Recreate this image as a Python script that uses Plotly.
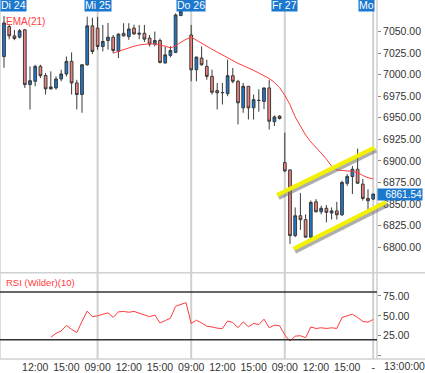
import plotly.graph_objects as go

# ---------------- data ----------------
candle_idx = list(range(72))
open_ = [7021, 7055.8, 7045, 7043.5, 7052, 6988.5, 6992.3, 7009.6, 6999, 6983.5,
         6984.6, 6995, 7000.8, 7015.4, 6990.4, 6977, 7011.5, 7056.6,
         7054, 7032.7, 7039.6, 7043.5, 7027, 7048, 7044.2, 7054, 7047, 7048,
         7042.4, 7035.5, 7039.6, 7013.5, 7022.3, 7025.8, 7068.5, 7074.5,
         7046, 7005.8, 7019.3, 7009.6, 6998, 6981.5, 6979, 6978, 6998.8, 6992.3,
         6961.5, 6986.5, 6961.5, 6970, 6969, 6984.6, 6945.4, 6952,
         6898, 6889.5, 6813.3, 6836.4, 6831.8, 6811.5, 6852.5, 6841, 6845, 6839.5,
         6842, 6837.4, 6874, 6881.9, 6890.3, 6873, 6856.5, 6855.7]
high = [7068, 7058, 7052, 7053, 7053, 7009.6, 7011.5, 7011.5, 7002, 7003.8,
        6998, 7005.8, 7021, 7025.8, 6994, 7012, 7067.3, 7066,
        7067, 7057.7, 7060, 7046, 7048, 7059.7, 7059.7, 7058, 7057.7, 7057.7,
        7046, 7050, 7042, 7032.7, 7033, 7071, 7074, 7084,
        7057.7, 7021, 7032.7, 7017.3, 7005.8, 6990.4, 6990.4, 7017.3, 7007.7, 6994,
        6990.4, 6986.5, 6977, 6983, 6985, 6994, 6952.7, 6953,
        6932.7, 6890, 6846, 6862.6, 6838, 6854, 6855.6, 6848, 6848.8, 6846,
        6852.5, 6877, 6884.6, 6894, 6914.2, 6879, 6867, 6861.6]
low = [7008, 7041, 7040, 7042, 6984.6, 6959.6, 6986.5, 6996, 6977, 6982.7,
       6982.7, 6992.3, 6998, 6977, 6959.6, 6955.8, 7010.4, 7024,
       7029, 7026.9, 7029, 7025, 7019.3, 7044, 7040.4, 7046, 7041, 7038,
       7032.7, 7032.7, 7013, 7013, 7020, 7025, 7068, 7074,
       6992.3, 6992.3, 7010.4, 6994.2, 6977, 6959.6, 6965.4, 6975, 6990, 6942.3,
       6955.8, 6948, 6948, 6957, 6960, 6936.5, 6940.4, 6948,
       6887, 6803.7, 6811.5, 6820, 6811, 6810, 6840, 6838, 6828.8, 6832,
       6832, 6836, 6871, 6861.5, 6874, 6854, 6843.3, 6854.5]
close = [7060, 7045, 7042, 7051, 6988.5, 6993, 7009.6, 6998.8, 6983.5, 6985.8,
         6995, 7000.8, 7015.4, 6990.4, 6977, 7011.5, 7056.6, 7026.9,
         7032.7, 7038.5, 7043.5, 7028, 7047, 7045, 7053, 7047.3, 7048, 7041.2,
         7035.5, 7039.6, 7014.2, 7023, 7028, 7069.3, 7073.5, 7080,
         7005.6, 7020.4, 7011.5, 6998, 6979.6, 6978.9, 6979.3, 6998.8, 6992.3, 6967.3,
         6986.5, 6961.5, 6971, 6970.2, 6984.6, 6946, 6951, 6949.2,
         6888.3, 6813.3, 6836.4, 6831.8, 6811.5, 6851.8, 6841, 6845, 6840.3, 6842,
         6837.4, 6875, 6882, 6890.3, 6874, 6856.5, 6853.7, 6861.54]

ema_idx = list(range(21, 72))
ema21 = [7025, 7027, 7029.5, 7031, 7033, 7034.5, 7035.5, 7035.8, 7035.6, 7034.5,
         7033, 7031, 7033.5, 7037.5, 7041, 7043.5, 7040, 7036.5, 7033, 7029,
         7026, 7023, 7019.5, 7016, 7013, 7010.5, 7008, 7005, 7002, 6998.5,
         6995.5, 6991, 6985, 6976, 6965, 6951, 6940, 6930, 6922, 6916,
         6909, 6902, 6894, 6889.5, 6888.5, 6888.3, 6888, 6886.5, 6883, 6880.5, 6879]

rsi_idx = list(range(9, 72))
rsi10 = [23, 28, 31, 38, 33, 29, 43, 56, 49, 50, 52, 53.7, 48, 55, 55.5, 54.5,
         55.5, 53, 51, 49, 51, 41, 44, 47, 62, 64, 66.6, 40.4, 44.5, 41, 37, 36,
         34.5, 34, 43.5, 41.6, 35, 42.5, 36.2, 40.4, 39, 45.8, 35, 38.3, 37.5,
         26, 18.3, 24.5, 25, 22.5, 36, 34.1, 35, 34.1, 35, 34.1, 47.9, 50, 52,
         48, 43, 42, 45.4]

day_labels = ["Di 24", "Mi 25", "Do 26", "Fr 27", "Mo"]
day_start_idx = [0, 18, 36, 54, 71]

time_tick_idx = [6, 12, 18, 24, 30, 36, 42, 48, 54, 60, 66, 71]
time_tick_text = ["12:00", "15:00", "09:00", "12:00", "15:00", "09:00",
                  "12:00", "15:00", "09:00", "12:00", "15:00", "-"]

price_ticks = [6800, 6825, 6850, 6875, 6900, 6925, 6950, 6975, 7000, 7025, 7050]
rsi_ticks = [0, 25, 50, 75]
rsi_levels = [80, 20]

# trend channel drawn on the chart (index, price)
channel_upper = [(52.5, 6860.3), (71.25, 6915.4)]
channel_lower = [(55.67, 6797.9), (73.46, 6852.2)]

# ---------------- layout geometry ----------------
W, H = 425, 373
ML, MR, MT, MB = 0, 48, 0, 12
PW, PH = W - ML - MR, H - MT - MB
split = 86.7 / PH
x_range = [-0.77, 71.73]
y_range = [6770.2, 7086.6]
rsi_range = [-4.25, 104.1]

FONT = "Liberation Sans, Arial, sans-serif"
BLUE = "#1b78cf"
SALMON = "#f08080"
EDGE = "#3a3a3a"
RED = "#ff3b3b"
GRID = "#d0d0d0"


def to_paper(ix, p):
    px = (ix - x_range[0]) / (x_range[1] - x_range[0])
    py = split + (p - y_range[0]) / (y_range[1] - y_range[0]) * (1 - split)
    return px, py


fig = go.Figure()

fig.add_trace(go.Candlestick(
    x=candle_idx, open=open_, high=high, low=low, close=close,
    increasing=dict(line=dict(color=EDGE, width=1), fillcolor=BLUE),
    decreasing=dict(line=dict(color=EDGE, width=1), fillcolor=SALMON),
    whiskerwidth=0, showlegend=False, hoverinfo="skip",
    xaxis="x", yaxis="y"))

fig.add_trace(go.Scatter(x=ema_idx, y=ema21, mode="lines",
                         line=dict(color=RED, width=1), showlegend=False,
                         hoverinfo="skip", xaxis="x", yaxis="y"))

fig.add_trace(go.Scatter(x=rsi_idx, y=rsi10, mode="lines",
                         line=dict(color=RED, width=1), showlegend=False,
                         hoverinfo="skip", xaxis="x2", yaxis="y2"))

shapes = []
# day separators
for d in day_start_idx[1:]:
    shapes.append(dict(type="line", xref="x", yref="paper", x0=d, x1=d, y0=0, y1=1,
                       line=dict(color=GRID, width=2), layer="below"))
# plot edges
shapes.append(dict(type="line", xref="paper", yref="paper", x0=0, x1=0, y0=0, y1=1,
                   line=dict(color=GRID, width=1.5)))
shapes.append(dict(type="line", xref="paper", yref="paper", x0=1, x1=1, y0=0, y1=1,
                   line=dict(color=GRID, width=1.5)))
for yy in [split, 0]:
    shapes.append(dict(type="line", xref="paper", yref="paper", x0=0, x1=W / PW,
                       y0=yy, y1=yy, line=dict(color=GRID, width=1.5)))
# RSI levels
for lv in rsi_levels:
    shapes.append(dict(type="line", xref="paper", yref="y2", x0=0, x1=1, y0=lv, y1=lv,
                       line=dict(color="#333333", width=1.5)))
# channel lines with shadow
for (a, b) in [channel_upper, channel_lower]:
    x0, y0 = to_paper(*a)
    x1, y1 = to_paper(*b)
    dx, dy = 1.5 / PW, -2.5 / PH
    shapes.append(dict(type="line", xref="paper", yref="paper",
                       x0=x0 + dx, y0=y0 + dy, x1=x1 + dx, y1=y1 + dy,
                       line=dict(color="rgba(110,110,110,0.55)", width=5)))
    shapes.append(dict(type="line", xref="paper", yref="paper",
                       x0=x0, y0=y0, x1=x1, y1=y1,
                       line=dict(color="#f2f200", width=4)))

annotations = []
for lab, d in zip(day_labels, day_start_idx):
    if d == 0:
        ax, anc = 0, "left"
    elif d == day_start_idx[-1]:
        ax, anc = 375 / PW, "right"
    else:
        ax, anc = (d - x_range[0]) / (x_range[1] - x_range[0]), "center"
    annotations.append(dict(text=lab, xref="paper", yref="paper", x=ax, xanchor=anc,
                            y=1 - 5 / PH, yanchor="middle", showarrow=False,
                            font=dict(family=FONT, size=10.5, color="white"),
                            bgcolor=BLUE, borderpad=0))
annotations.append(dict(text="EMA(21)", xref="paper", yref="paper", x=4 / PW, y=1 - 22 / PH,
                        xanchor="left", yanchor="middle", showarrow=False,
                        font=dict(family=FONT, size=10, color=RED)))
annotations.append(dict(text="RSI (Wilder)(10)", xref="paper", yref="paper", x=4 / PW,
                        y=(PH - 284) / PH, xanchor="left", yanchor="middle", showarrow=False,
                        font=dict(family=FONT, size=9.5, color=RED)))
annotations.append(dict(text="%.2f" % close[-1], xref="paper", yref="y", x=1.0, y=close[-1],
                        xanchor="left", yanchor="middle", showarrow=False, width=44,
                        height=11, align="right", valign="middle", bgcolor=BLUE,
                        borderpad=0, font=dict(family=FONT, size=10, color="white")))
annotations.append(dict(text="13:00:00", xref="paper", yref="paper", x=404 / PW, y=-7 / PH,
                        xanchor="center", yanchor="middle", showarrow=False,
                        font=dict(family=FONT, size=10.5, color="#333333")))

axis_font = dict(family=FONT, size=10.5, color="#333333")
fig.update_layout(
    width=W, height=H, margin=dict(l=ML, r=MR, t=MT, b=MB),
    paper_bgcolor="white", plot_bgcolor="white",
    showlegend=False, boxgap=0.25, hovermode=False,
    xaxis=dict(domain=[0, 1], anchor="y", range=x_range, showgrid=False,
               zeroline=False, showticklabels=False, rangeslider=dict(visible=False),
               fixedrange=True),
    yaxis=dict(domain=[split, 1], anchor="x", side="right", range=y_range,
               tickvals=price_ticks, tickformat=".2f", ticks="outside", ticklen=3,
               tickcolor="#888888", showgrid=False, zeroline=False,
               tickfont=axis_font),
    xaxis2=dict(domain=[0, 1], anchor="y2", range=x_range, matches="x",
                showgrid=False, zeroline=False, tickvals=time_tick_idx,
                ticktext=time_tick_text, ticks="", tickfont=axis_font),
    yaxis2=dict(domain=[0, split], anchor="x2", side="right", range=rsi_range,
                tickvals=rsi_ticks, ticktext=["", "25.00", "50.00", "75.00"],
                ticks="outside", ticklen=3, tickcolor="#888888",
                showgrid=False, zeroline=False, tickfont=axis_font),
    shapes=shapes, annotations=annotations,
)

fig.write_html("out.html", config={"displayModeBar": False, "staticPlot": True},
               post_script="document.body.style.margin='0';document.body.style.padding='0';")
